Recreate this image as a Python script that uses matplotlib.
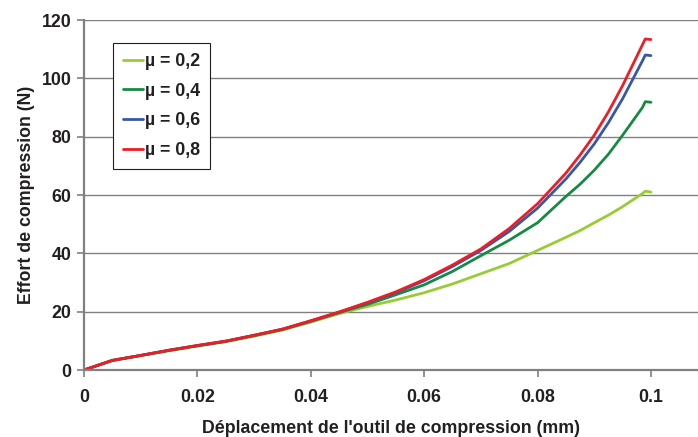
import matplotlib.pyplot as plt

plt.rcParams['font.family'] = ['Liberation Sans', 'DejaVu Sans']
plt.rcParams['font.weight'] = 'bold'

# Displacement (mm)
depl = [0, 0.005, 0.01, 0.015, 0.02, 0.025, 0.03, 0.035, 0.04, 0.045,
        0.05, 0.055, 0.06, 0.065, 0.07, 0.075, 0.08, 0.085, 0.0875, 0.09,
        0.0925, 0.095, 0.0985, 0.099, 0.1]

# Compression force (N) for each friction coefficient
effort_02 = [0, 3.2, 4.9, 6.6, 8.2, 9.7, 11.6, 13.7, 16.4, 19.3,
             21.8, 24.0, 26.5, 29.5, 33.0, 36.5, 41.0, 45.5, 47.8, 50.5,
             53.1, 56.0, 60.5, 61.3, 61.0]
effort_04 = [0, 3.3, 5.0, 6.7, 8.3, 9.8, 11.8, 13.9, 16.7, 19.7,
             22.5, 25.8, 29.2, 33.8, 39.2, 44.5, 50.5, 59.5, 63.7, 68.5,
             74.0, 80.5, 90.0, 92.0, 91.8]
effort_06 = [0, 3.3, 5.0, 6.8, 8.4, 9.9, 11.9, 14.0, 16.8, 19.8,
             23.0, 26.5, 30.6, 35.5, 41.0, 47.5, 55.5, 65.5, 71.2, 77.5,
             84.8, 93.0, 106.0, 108.0, 107.8]
effort_08 = [0, 3.3, 5.0, 6.8, 8.4, 9.9, 11.9, 14.0, 16.9, 19.9,
             23.2, 26.8, 31.0, 36.0, 41.5, 48.5, 57.0, 67.5, 73.7, 80.5,
             88.5, 97.5, 111.5, 113.5, 113.3]

series = [
    (effort_02, 'µ = 0,2', '#99CC33'),
    (effort_04, 'µ = 0,4', '#168A41'),
    (effort_06, 'µ = 0,6', '#3558A8'),
    (effort_08, 'µ = 0,8', '#EE1D24'),
]

x_ticks = [0, 0.02, 0.04, 0.06, 0.08, 0.1]
x_ticklabels = ['0', '0.02', '0.04', '0.06', '0.08', '0.1']
y_ticks = [0, 20, 40, 60, 80, 100, 120]

fig = plt.figure(figsize=(6.98, 4.37), dpi=100)
ax = fig.add_axes([0.1203, 0.1533, 0.8797, 0.8009])

for vals, lab, col in series:
    ax.plot(depl, vals, color=col, linewidth=2.0, label=lab,
            solid_capstyle='round', solid_joinstyle='round')

ax.set_xlim(0, 0.1083)
ax.set_ylim(0, 120)
ax.set_xticks(x_ticks)
ax.set_xticklabels(x_ticklabels)
ax.set_yticks(y_ticks)

ax.yaxis.grid(True, color='#808080', linewidth=1.0)
ax.set_axisbelow(True)

for side in ['top', 'right']:
    ax.spines[side].set_visible(False)
for side in ['left', 'bottom']:
    ax.spines[side].set_color('#808080')
    ax.spines[side].set_linewidth(1.6)

ax.tick_params(axis='both', direction='out', length=5, width=1.2,
               color='#808080', labelsize=12.8, labelcolor='#231F20')
ax.tick_params(axis='x', pad=9)
ax.tick_params(axis='y', pad=4)

ax.set_xlabel("Déplacement de l'outil de compression (mm)", fontsize=12.8,
              fontweight='bold', color='#231F20', labelpad=10)
ax.set_ylabel('Effort de compression (N)', fontsize=12.8,
              fontweight='bold', color='#231F20', labelpad=5)

leg = ax.legend(loc='upper left', bbox_to_anchor=(0.047, 0.934),
                borderaxespad=0, fancybox=False, framealpha=1,
                edgecolor='#231F20', fontsize=12.8, handlelength=1.15,
                handletextpad=0.12, labelspacing=0.72, borderpad=0.55)
leg.get_frame().set_linewidth(0.8)
for t in leg.get_texts():
    t.set_color('#231F20')

fig.savefig('out.png', dpi=100)
